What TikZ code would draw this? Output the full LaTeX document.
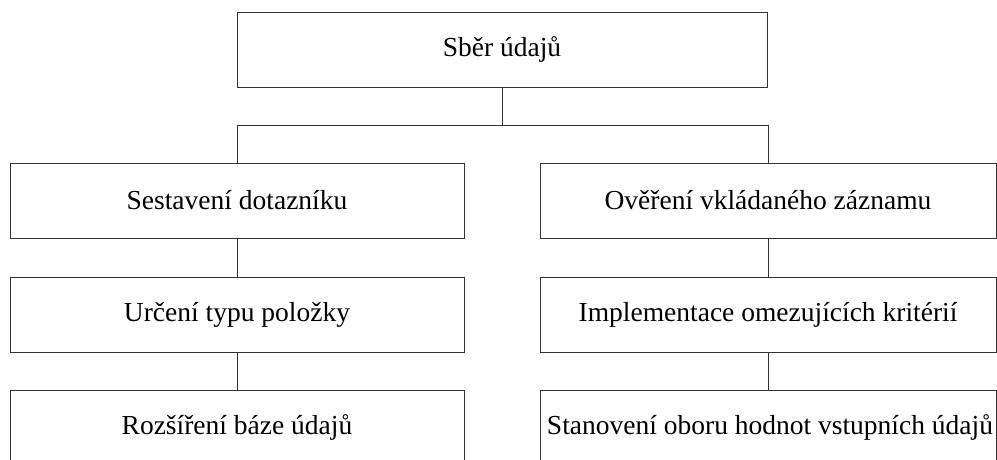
\documentclass[tikz,border=0pt]{standalone}
\usepackage{fontspec}
\setmainfont{Liberation Serif}
\begin{document}
\begin{tikzpicture}[x=1pt,y=-1pt,
  stage/.style={draw=black!80, line width=1pt, rectangle, inner sep=0pt,
    minimum height=75pt, font=\fontsize{27.5}{32}\selectfont, text=black},
  leftbox/.style={stage, minimum width=454pt},
  rightbox/.style={stage, minimum width=456pt},
  link/.style={draw=black!80, line width=1pt}]
  \useasboundingbox (0,0) rectangle (997,459);
  \clip (0,0) rectangle (997,459);

  % root
  \node[stage, minimum width=530pt] (top) at (502,49.5) {Sběr údajů};

  % left branch
  \node[leftbox] (l1) at (237,200.5) {Sestavení dotazníku};
  \node[leftbox] (l2) at (237,314.5) {Určení typu položky};
  \node[leftbox] (l3) at (237,427.5) {Rozšíření báze údajů};

  % right branch
  \node[rightbox] (r1) at (768,200.5) {Ověření vkládaného záznamu};
  \node[rightbox] (r2) at (768,314.5) {Implementace omezujících kritérií};
  \node[rightbox] (r3) at (768,427.5) {\hspace*{4pt}Stanovení oboru hodnot vstupních údajů};

  % connectors
  \coordinate (bar) at (502,125);
  \draw[link] (top.south) -- (bar);
  \draw[link] (l1.north) -- (l1.north |- bar) -- (r1.north |- bar) -- (r1.north);
  \draw[link] (l1.south) -- (l2.north);
  \draw[link] (l2.south) -- (l3.north);
  \draw[link] (r1.south) -- (r2.north);
  \draw[link] (r2.south) -- (r3.north);
\end{tikzpicture}
\end{document}
